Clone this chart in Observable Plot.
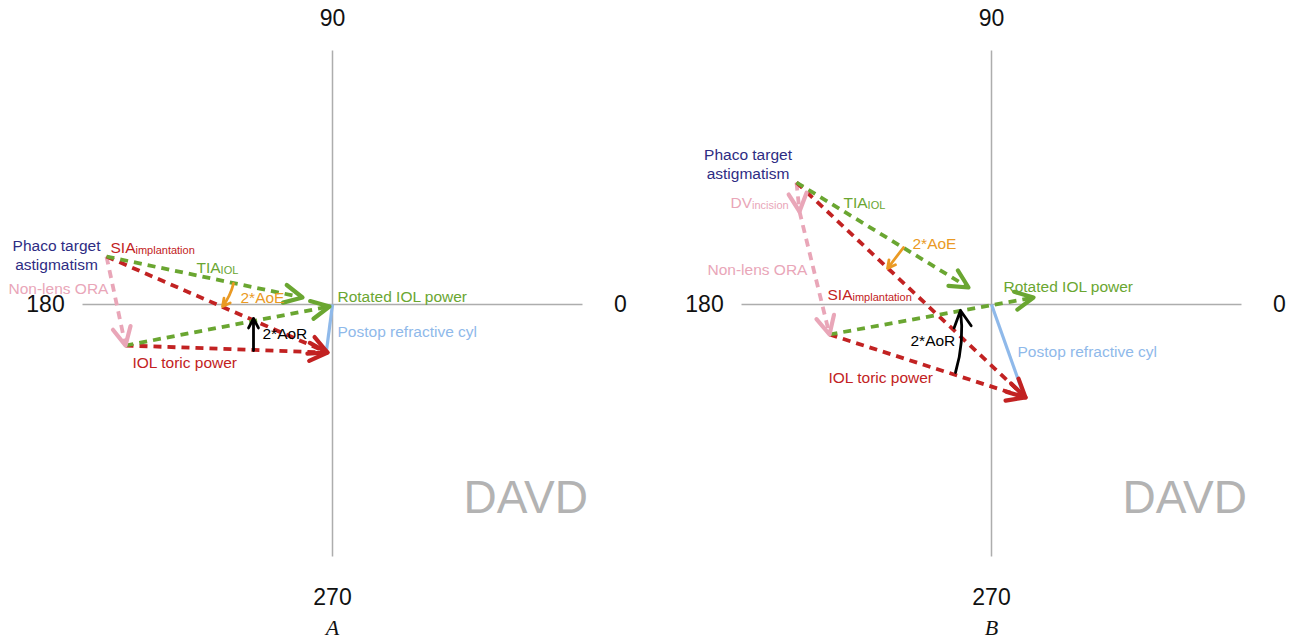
<!DOCTYPE html>
<html><head><meta charset="utf-8">
<script src="https://cdn.jsdelivr.net/npm/d3@7"></script>
<script src="https://cdn.jsdelivr.net/npm/@observablehq/plot@0.6"></script>
<style>
html,body{margin:0;padding:0;background:#fff;}
#wrap{position:relative;width:1297px;height:640px;overflow:hidden;}
#wrap svg{position:absolute;top:0;}
</style></head><body><div id="wrap"></div>
<script>
// ---- data (double-angle vector diagram, units: dioptres on a ±2.5 axis) ----
const axisAngles = [0, 90, 180, 270];
const axisLabelRadius = [2.88, 2.86, 2.87, 2.93];

// [vector name, x1, y1, x2, y2]
const vectorsA = [
  ["Non-lens ORA",          -2.26,  0.48, -2.07, -0.41],
  ["SIA implantation",      -2.26,  0.48, -0.05, -0.48],
  ["IOL toric power",       -2.07, -0.41, -0.05, -0.48],
  ["TIA IOL",               -2.26,  0.48, -0.30,  0.07],
  ["Rotated IOL power",     -2.07, -0.41, -0.03, -0.02],
  ["Postop refractive cyl",  0.00,  0.00, -0.06, -0.46],
  ["2*AoE",                 -0.99,  0.21, -1.10, -0.02],
  ["2*AoR",                 -0.79, -0.46, -0.79, -0.14]
];
const vectorsB = [
  ["DV incision",           -1.95,  1.22, -1.92,  0.93],
  ["Non-lens ORA",          -1.92,  0.93, -1.62, -0.30],
  ["SIA implantation",      -1.95,  1.22,  0.34, -0.93],
  ["IOL toric power",       -1.62, -0.30,  0.34, -0.93],
  ["TIA IOL",               -1.95,  1.22, -0.23,  0.17],
  ["Rotated IOL power",     -1.62, -0.30,  0.42,  0.07],
  ["Postop refractive cyl",  0.00,  0.00,  0.32, -0.90],
  ["2*AoE",                 -0.88,  0.57, -1.04,  0.36],
  ["2*AoR",                 -0.36, -0.68, -0.31, -0.06]
];

// annotation labels: [vector name, text, subscript, x, y]
const labelsA = [
  ["Phaco target astigmatism", "Phaco target\nastigmatism", "", -2.76, 0.50],
  ["SIA implantation", "SIA", "implantation", -2.22, 0.58],
  ["TIA IOL", "TIA", "IOL", -1.36, 0.38],
  ["Non-lens ORA", "Non-lens ORA", "", -3.24, 0.165],
  ["2*AoE", "2*AoE", "", -0.92, 0.08],
  ["2*AoR", "2*AoR", "", -0.70, -0.28],
  ["IOL toric power", "IOL toric power", "", -2.00, -0.57],
  ["Rotated IOL power", "Rotated IOL power", "", 0.05, 0.09],
  ["Postop refractive cyl", "Postop refractive cyl", "", 0.05, -0.26]
];
const labelsB = [
  ["Phaco target astigmatism", "Phaco target\nastigmatism", "", -2.435, 1.41],
  ["DV incision", "DV", "incision", -2.61, 1.03],
  ["TIA IOL", "TIA", "IOL", -1.48, 1.03],
  ["2*AoE", "2*AoE", "", -0.79, 0.62],
  ["Non-lens ORA", "Non-lens ORA", "", -2.84, 0.36],
  ["SIA implantation", "SIA", "implantation", -1.64, 0.11],
  ["Rotated IOL power", "Rotated IOL power", "", 0.12, 0.19],
  ["2*AoR", "2*AoR", "", -0.81, -0.35],
  ["IOL toric power", "IOL toric power", "", -1.63, -0.72],
  ["Postop refractive cyl", "Postop refractive cyl", "", 0.26, -0.46]
];
const captions = ["A", "B"];
const watermark = "DAVD";

// ---- styles ----
const styles = {
  "Phaco target astigmatism": {color: "#2e2c83"},
  "Non-lens ORA":          {color: "#e9a6b8", kind: "dashed"},
  "DV incision":           {color: "#e9a6b8", kind: "dashed"},
  "SIA implantation":      {color: "#c22222", kind: "dashed"},
  "IOL toric power":       {color: "#c22222", kind: "dashed"},
  "TIA IOL":               {color: "#6aa631", kind: "dashed"},
  "Rotated IOL power":     {color: "#6aa631", kind: "dashed"},
  "Postop refractive cyl": {color: "#8fb9ea", kind: "solid"},
  "2*AoE":                 {color: "#ea9a24", kind: "arrow", bend: 12},
  "2*AoR":                 {color: "#000000", kind: "arrow", bend: 0}
};
const bendB = {"2*AoR": -12, "2*AoE": 0};

const FONT = "'Liberation Sans', Arial, Helvetica, sans-serif";
const FS = 15.5;
const ctx = document.createElement("canvas").getContext("2d");
ctx.font = `${FS}px ${FONT}`;
const textWidth = (s) => ctx.measureText(s).width;

const vHead = {
  draw(context, l) {
    const w = l * 0.5;
    context.moveTo(-w, 0);
    context.lineTo(0, -l);
    context.lineTo(w, 0);
  }
};

function panel(vectors, labels, caption, centerPx, width, bends) {
  const vs = vectors.map(([name, x1, y1, x2, y2]) => ({name, x1, y1, x2, y2}));
  const marks = [];
  // axes
  marks.push(Plot.link([{x1: -2.5, y1: 0, x2: 2.5, y2: 0}, {x1: 0, y1: -2.52, x2: 0, y2: 2.54}],
    {x1: "x1", y1: "y1", x2: "x2", y2: "y2", stroke: "#adadad", strokeWidth: 1.5}));
  const ax = axisAngles.map((a, i) => ({
    t: String(a),
    x: axisLabelRadius[i] * Math.cos(a * Math.PI / 180),
    y: axisLabelRadius[i] * Math.sin(a * Math.PI / 180)
  }));
  marks.push(Plot.text(ax, {x: "x", y: "y", text: "t", fontSize: 23, fill: "#111", fontFamily: FONT}));
  marks.push(Plot.text([watermark], {x: 1.31, y: -1.94, text: d => d, textAnchor: "start",
    fontSize: 46, fill: "#b3b3b3", fontFamily: FONT}));
  marks.push(Plot.text([caption], {x: 0, y: -3.23, text: d => d, fontSize: 22, fontStyle: "italic",
    fontFamily: "'Liberation Serif', 'Times New Roman', serif", fill: "#111"}));
  // vectors
  for (const v of vs) {
    const st = styles[v.name];
    if (st.kind === "dashed") {
      marks.push(Plot.link([v], {x1: "x1", y1: "y1", x2: "x2", y2: "y2", stroke: st.color,
        strokeWidth: 3.8, strokeDasharray: "8,6"}));
    } else if (st.kind === "solid") {
      marks.push(Plot.link([v], {x1: "x1", y1: "y1", x2: "x2", y2: "y2", stroke: st.color, strokeWidth: 3.2}));
    } else {
      const b = bends && bends[v.name] !== undefined ? bends[v.name] : st.bend;
      marks.push(Plot.arrow([v], {x1: "x1", y1: "y1", x2: "x2", y2: "y2", stroke: st.color,
        strokeWidth: 2.8, headLength: 10, headAngle: 55, bend: b}));
    }
  }
  for (const v of vs) {
    const st = styles[v.name];
    if (st.kind !== "dashed") continue;
    marks.push(Plot.vector([v], {x: "x2", y: "y2",
      rotate: d => Math.atan2(d.x2 - d.x1, d.y2 - d.y1) * 180 / Math.PI,
      length: 18, anchor: "end", shape: vHead, stroke: st.color, strokeWidth: 4.2, fill: "none"}));
  }
  // labels
  const ls = labels.map(([name, text, sub, x, y]) => ({name, text, sub, x, y}));
  for (const l of ls) {
    const col = styles[l.name].color;
    const multi = l.text.includes("\n");
    marks.push(Plot.text([l], {x: "x", y: "y", text: "text", fill: col, fontSize: FS, fontFamily: FONT,
      textAnchor: multi ? "middle" : "start", lineHeight: 1.25}));
    if (l.sub) {
      marks.push(Plot.text([l], {x: "x", y: "y", text: "sub", fill: col, fontSize: 11, fontFamily: FONT,
        textAnchor: "start", dx: textWidth(l.text), dy: 4}));
    }
  }
  return Plot.plot({
    width, height: 640,
    x: {domain: [-2.5, 2.5], range: [centerPx - 250, centerPx + 250]},
    y: {domain: [-2.5, 2.5], range: [554, 54]},
    axis: null,
    style: {fontFamily: FONT, background: "transparent"},
    marks
  });
}

const wrap = document.getElementById("wrap");
const pA = panel(vectorsA, labelsA, captions[0], 332, 648, null);
pA.style.left = "0px";
const pB = panel(vectorsB, labelsB, captions[1], 343, 649, bendB);
pB.style.left = "648px";
wrap.appendChild(pA);
wrap.appendChild(pB);
</script></body></html>
